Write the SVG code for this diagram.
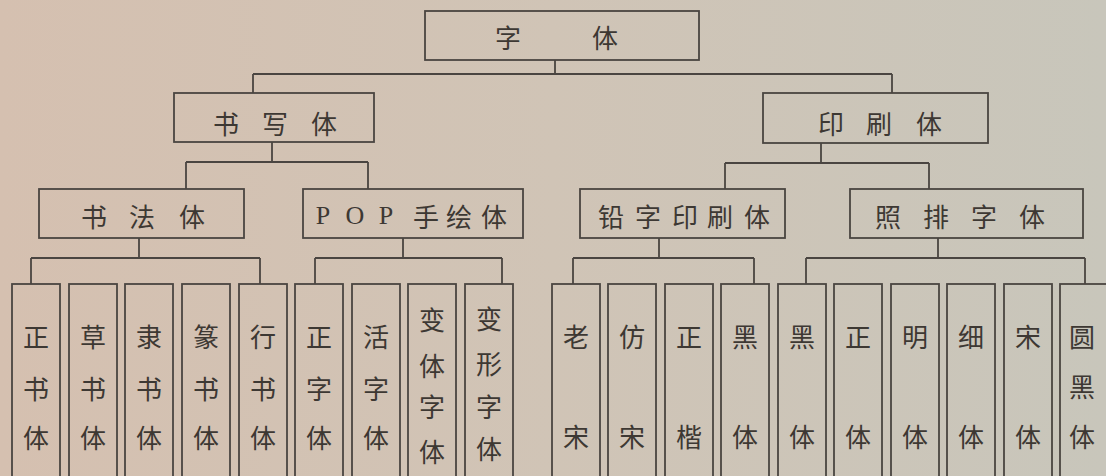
<svg xmlns="http://www.w3.org/2000/svg" width="1106" height="476" viewBox="0 0 1106 476">
<defs>
<linearGradient id="bg" x1="0" y1="0" x2="1" y2="0">
<stop offset="0" stop-color="#d5c0b0"/>
<stop offset="0.5" stop-color="#d0c4b6"/>
<stop offset="1" stop-color="#c8c6bb"/>
</linearGradient>
</defs>
<style>
.box{fill:none;stroke:#4a4541;stroke-width:1.8}
.ln{fill:none;stroke:#4a4541;stroke-width:1.8}
.t{font-family:"Noto Sans CJK SC","Liberation Serif",sans-serif;font-size:26px;fill:#3d3833;text-anchor:middle;dominant-baseline:central}
.lat{font-family:"Liberation Serif",serif;font-size:26px}
</style>
<rect x="0" y="0" width="1106" height="476" fill="url(#bg)"/>
<g id="connectors">
<path class="ln" d="M555,60V74M253,74H892M253,74V93M892,74V93"/>
<path class="ln" d="M272,142V162M186,162H368M186,162V189M368,162V189"/>
<path class="ln" d="M821,143V163M725,163H929M725,163V189M929,163V189"/>
<path class="ln" d="M139,238V258M31,258H260M31,258V284M260,258V284"/>
<path class="ln" d="M403,238V258M315,258H502M315,258V284M502,258V284"/>
<path class="ln" d="M659,238V258M573,258H754M573,258V284M754,258V284"/>
<path class="ln" d="M938,238V258M806,258H1085M806,258V284M1085,258V284"/>
</g>
<g id="root"><rect class="box" x="425" y="11" width="274" height="49"/>
<text class="t" y="36"><tspan x="508">字</tspan><tspan x="605">体</tspan></text></g>
<g id="shuxieti"><rect class="box" x="174" y="93" width="200" height="49"/>
<text class="t" y="122"><tspan x="226">书</tspan><tspan x="275">写</tspan><tspan x="324">体</tspan></text></g>
<g id="yinshuati"><rect class="box" x="763" y="93" width="225" height="50"/>
<text class="t" y="122"><tspan x="831">印</tspan><tspan x="879">刷</tspan><tspan x="929">体</tspan></text></g>
<g id="shufati"><rect class="box" x="39" y="189" width="205" height="49"/>
<text class="t" y="215"><tspan x="94">书</tspan><tspan x="142">法</tspan><tspan x="192">体</tspan></text></g>
<g id="pop"><rect class="box" x="303" y="189" width="220" height="49"/>
<text class="t" y="215"><tspan class="lat" x="323">P</tspan><tspan class="lat" x="355">O</tspan><tspan class="lat" x="386">P</tspan><tspan x="426">手</tspan><tspan x="459">绘</tspan><tspan x="494">体</tspan></text></g>
<g id="qianzi"><rect class="box" x="580" y="189" width="205" height="49"/>
<text class="t" y="215"><tspan x="611">铅</tspan><tspan x="648">字</tspan><tspan x="685">印</tspan><tspan x="720">刷</tspan><tspan x="757">体</tspan></text></g>
<g id="zhaopai"><rect class="box" x="850" y="189" width="233" height="49"/>
<text class="t" y="215"><tspan x="888">照</tspan><tspan x="936">排</tspan><tspan x="984">字</tspan><tspan x="1032">体</tspan></text></g>
<g id="leaf1"><rect class="box" x="12" y="284" width="48" height="220"/>
<text class="t"><tspan x="36" y="335">正</tspan><tspan x="36" y="387">书</tspan><tspan x="36" y="436">体</tspan></text></g>
<g id="leaf2"><rect class="box" x="69" y="284" width="48" height="220"/>
<text class="t"><tspan x="93" y="335">草</tspan><tspan x="93" y="387">书</tspan><tspan x="93" y="436">体</tspan></text></g>
<g id="leaf3"><rect class="box" x="125" y="284" width="48" height="220"/>
<text class="t"><tspan x="149" y="335">隶</tspan><tspan x="149" y="387">书</tspan><tspan x="149" y="436">体</tspan></text></g>
<g id="leaf4"><rect class="box" x="182" y="284" width="48" height="220"/>
<text class="t"><tspan x="206" y="335">篆</tspan><tspan x="206" y="387">书</tspan><tspan x="206" y="436">体</tspan></text></g>
<g id="leaf5"><rect class="box" x="239" y="284" width="48" height="220"/>
<text class="t"><tspan x="263" y="335">行</tspan><tspan x="263" y="387">书</tspan><tspan x="263" y="436">体</tspan></text></g>
<g id="leaf6"><rect class="box" x="295" y="284" width="48" height="220"/>
<text class="t"><tspan x="319" y="335">正</tspan><tspan x="319" y="387">字</tspan><tspan x="319" y="436">体</tspan></text></g>
<g id="leaf7"><rect class="box" x="352" y="284" width="48" height="220"/>
<text class="t"><tspan x="376" y="335">活</tspan><tspan x="376" y="387">字</tspan><tspan x="376" y="436">体</tspan></text></g>
<g id="leaf8"><rect class="box" x="408" y="284" width="48" height="220"/>
<text class="t"><tspan x="432" y="318">变</tspan><tspan x="432" y="364">体</tspan><tspan x="432" y="405">字</tspan><tspan x="432" y="450">体</tspan></text></g>
<g id="leaf9"><rect class="box" x="465" y="284" width="48" height="220"/>
<text class="t"><tspan x="489" y="317">变</tspan><tspan x="489" y="362">形</tspan><tspan x="489" y="405">字</tspan><tspan x="489" y="447">体</tspan></text></g>
<g id="leaf10"><rect class="box" x="552" y="284" width="48" height="220"/>
<text class="t"><tspan x="576" y="335">老</tspan><tspan x="576" y="435">宋</tspan></text></g>
<g id="leaf11"><rect class="box" x="608" y="284" width="48" height="220"/>
<text class="t"><tspan x="632" y="335">仿</tspan><tspan x="632" y="435">宋</tspan></text></g>
<g id="leaf12"><rect class="box" x="665" y="284" width="48" height="220"/>
<text class="t"><tspan x="689" y="335">正</tspan><tspan x="689" y="435">楷</tspan></text></g>
<g id="leaf13"><rect class="box" x="721" y="284" width="48" height="220"/>
<text class="t"><tspan x="745" y="335">黑</tspan><tspan x="745" y="435">体</tspan></text></g>
<g id="leaf14"><rect class="box" x="778" y="284" width="48" height="220"/>
<text class="t"><tspan x="802" y="335">黑</tspan><tspan x="802" y="435">体</tspan></text></g>
<g id="leaf15"><rect class="box" x="834" y="284" width="48" height="220"/>
<text class="t"><tspan x="858" y="335">正</tspan><tspan x="858" y="435">体</tspan></text></g>
<g id="leaf16"><rect class="box" x="891" y="284" width="48" height="220"/>
<text class="t"><tspan x="915" y="335">明</tspan><tspan x="915" y="435">体</tspan></text></g>
<g id="leaf17"><rect class="box" x="947" y="284" width="48" height="220"/>
<text class="t"><tspan x="971" y="335">细</tspan><tspan x="971" y="435">体</tspan></text></g>
<g id="leaf18"><rect class="box" x="1004" y="284" width="48" height="220"/>
<text class="t"><tspan x="1028" y="335">宋</tspan><tspan x="1028" y="435">体</tspan></text></g>
<g id="leaf19"><rect class="box" x="1060" y="284" width="48" height="220"/>
<text class="t"><tspan x="1082" y="335">圆</tspan><tspan x="1082" y="385">黑</tspan><tspan x="1082" y="435">体</tspan></text></g>
</svg>
